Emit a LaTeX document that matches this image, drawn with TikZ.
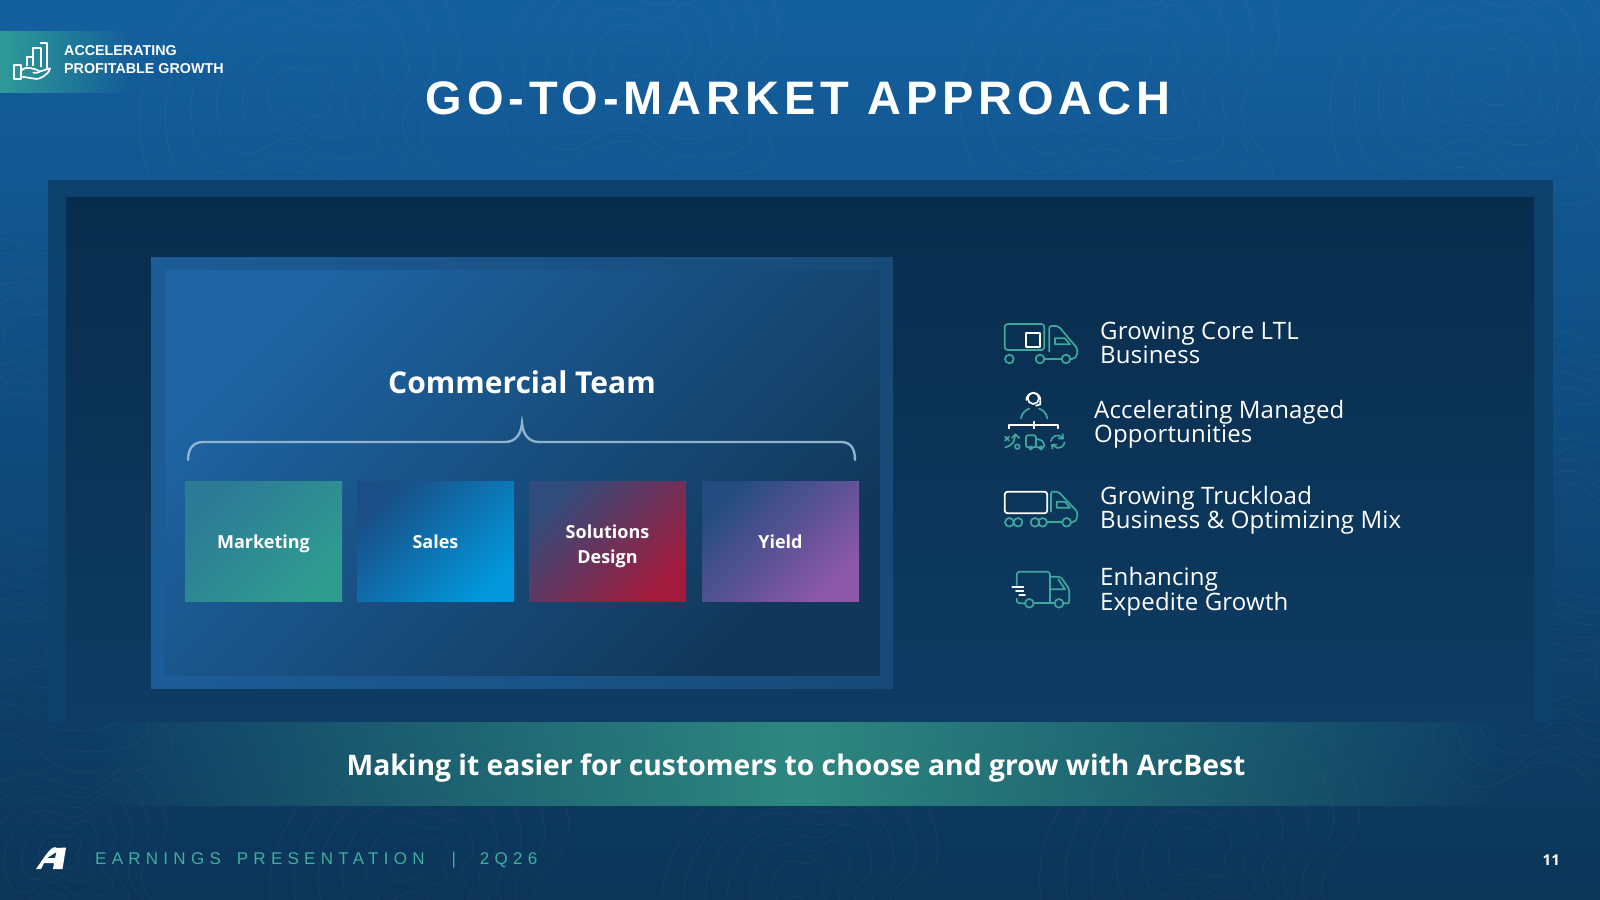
\documentclass[tikz,border=0pt]{standalone}
\usepackage{fontspec}
\setmainfont{Open Sans}
\newfontfamily\titlef[LetterSpace=10.4]{Liberation Sans}
\newfontfamily\headf{Liberation Sans}
\newfontfamily\footf[LetterSpace=31]{Liberation Sans}
\usetikzlibrary{calc,fadings}
\definecolor{teal1}{HTML}{2F9C98}
\definecolor{tealline}{HTML}{3FA79C}
\definecolor{foot}{HTML}{40AE9E}
\definecolor{bgtop}{HTML}{14609F}
\definecolor{bgmid}{HTML}{0F4A7C}
\definecolor{bgbot}{HTML}{0C3558}
\definecolor{panelout}{HTML}{0E406C}
\definecolor{panelin}{HTML}{082C4C}
\definecolor{panelr}{HTML}{0E3C63}
\definecolor{cbA}{HTML}{1C5C97}
\definecolor{cbB}{HTML}{174A78}
\definecolor{cbC}{HTML}{1E64A3}
\definecolor{cbD}{HTML}{113759}
\definecolor{brace}{HTML}{8FB2CE}
\definecolor{mkA}{HTML}{2C7A96}
\definecolor{mkB}{HTML}{2F9C90}
\definecolor{saA}{HTML}{1A4E86}
\definecolor{saB}{HTML}{0296DA}
\definecolor{soA}{HTML}{2F4C7C}
\definecolor{soB}{HTML}{A31B3C}
\definecolor{yiA}{HTML}{254C80}
\definecolor{yiB}{HTML}{8E58A8}
\definecolor{bandmid}{HTML}{2E8880}
\tikzfading[name=bandfade,left color=transparent!100,right color=transparent!100,middle color=transparent!0]
\tikzfading[name=hdfade,left color=transparent!0,right color=transparent!100]
\newcommand{\onel}{\rule[-4.5pt]{0pt}{23pt}}
\tikzset{
  x=1pt,y=-1pt,
  tile/.style={draw=none,minimum width=157pt,minimum height=120.5pt,inner sep=0pt,text=white,font=\bfseries\fontsize{18}{25}\selectfont,align=center},
  bullet/.style={anchor=west,align=left,text=white,inner sep=0pt,font=\addfontfeatures{LetterSpace=.8}\fontsize{24}{23.7}\selectfont},
  ic/.style={draw=tealline,line width=1.7pt,line join=round,line cap=round,fill=none},
  icw/.style={draw=white,line width=1.7pt,line join=round,line cap=round,fill=none},
  contour/.style={draw=white,draw opacity=.04,line width=.8pt},
}
\newcommand{\blob}[3]{%
  \foreach \s in {.25,.45,.65,.85,1.05,1.25}{
    \draw[contour,shift={(#1,#2)},scale=#3*\s] plot[smooth cycle,tension=.8] coordinates {(-70,-30) (-30,-60) (20,-50) (60,-65) (85,-20) (65,20) (80,60) (30,70) (-10,50) (-60,65) (-85,25)};
  }}
\begin{document}
\begin{tikzpicture}
\useasboundingbox (0,0) rectangle (1600,899);
\shade[top color=bgtop,bottom color=bgbot,middle color=bgmid] (0,0) rectangle (1600,899);
\begin{scope}
\clip (0,0) rectangle (1600,899);
\blob{300}{90}{1.5}\blob{640}{60}{1.3}\blob{1120}{70}{1.5}\blob{1480}{80}{1.4}
\blob{30}{330}{1.2}\blob{20}{640}{1.5}\blob{1580}{420}{1.2}\blob{1570}{680}{1.3}
\blob{420}{860}{1.4}\blob{800}{880}{1.3}\blob{1200}{850}{1.5}\blob{60}{850}{1}
\end{scope}
% main panels
\fill[panelout] (48,180) rectangle (1553,722);
\shade[top color=panelin,bottom color=panelr] (66,197) rectangle (1534,722);
% commercial box
\shade[left color=cbA,right color=cbB] (151,257) rectangle (893,688);
\shade[top color=cbC,bottom color=cbD,shading angle=45] (165,270) rectangle (880,675);
\node[text=white,font=\bfseries\fontsize{30}{32}\selectfont,inner sep=0pt] (ct) at (522,382) {Commercial Team};
\coordinate (tip) at (522,423);
\draw[draw=brace,line width=2.4pt,line cap=round] (188,460) .. controls (188,449) and (193,442) .. (203,442) -- (505,442) .. controls (514,442) and (521,436) .. (tip) .. controls (523,436) and (530,442) .. (539,442) -- (841,442) .. controls (851,442) and (855,449) .. (855,460);
\node[tile,top color=mkA,bottom color=mkB,shading angle=45] (mk) at (263.5,541.5) {\onel Marketing};
\node[tile,top color=saA,bottom color=saB,shading angle=45] (sa) at (435.5,541.5) {\onel Sales};
\node[tile,top color=soA,bottom color=soB,shading angle=45] (so) at (607.5,541.5) {\rule{0pt}{22.5pt}Solutions\\\rule[-4.5pt]{0pt}{4.5pt}Design};
\node[tile,top color=yiA,bottom color=yiB,shading angle=45] (yi) at (780.5,541.5) {\onel Yield};
% right bullets
\node[bullet] (b1) at (1100,342.5) {Growing Core LTL\\Business};
\node[bullet] (b2) at (1094,424) {Accelerating Managed\\Opportunities};
\node[bullet] (b3) at (1100,510) {Growing Truckload\\Business \& Optimizing Mix};
\node[bullet] (b4) at (1100,592) {Enhancing\\Expedite Growth};
% icon 1 and 2
\begin{scope}[shift={(990,310)},x=.3333pt,y=-.3333pt]
\draw[ic,rounded corners=3pt] (163,120) -- (44,120) -- (44,42) -- (163,42) -- cycle;
\draw[icw] (108,70) rectangle (150,110);
\draw[ic,rounded corners=2pt] (178,125) -- (178,48) -- (205,48) -- (262,115) -- (262,135) -- (252,147) -- (241,147);
\draw[ic] (195,85) -- (225,85) -- (240,103) -- (195,103) -- cycle;
\draw[ic] (58,147) circle[radius=13] (150,147) circle[radius=13] (228,147) circle[radius=13];
\draw[ic] (163,147) -- (215,147);
\draw[icw] (130,265) circle[radius=17];
\draw[icw] (109,270) arc[start angle=180,end angle=360,radius=21];
\draw[icw] (151,273) -- (151,283) -- (138,287);
\draw[ic] (93,325) .. controls (96,305) and (112,298) .. (118,296);
\draw[ic] (172,325) .. controls (169,305) and (153,298) .. (147,296);
\draw[icw] (58,355) -- (58,344) -- (203,344) -- (203,355);
\draw[icw] (131,335) -- (131,355);
\draw[ic] (45,380) -- (57,392) (57,380) -- (45,392) (46,412) .. controls (70,405) and (72,395) .. (75,378);
\draw[ic] (66,384) -- (76,373) -- (88,384);
\draw[ic] (82,410) circle[radius=7];
\draw[ic,rounded corners=2pt] (118,412) -- (108,412) -- (108,376) -- (138,376) -- (138,412) -- (127,412);
\draw[ic,rounded corners=2pt] (138,388) -- (152,388) -- (163,400) -- (163,412) -- (158,412) (149,412) -- (138,412);
\draw[ic] (122,414) circle[radius=5] (153,414) circle[radius=5];
\draw[ic] (183,393) arc[start angle=190,end angle=320,radius=20];
\draw[ic] (224,397) arc[start angle=10,end angle=140,radius=20];
\draw[ic] (218,372) -- (219,386) -- (206,385) (187,416) -- (186,404) -- (199,404);
\end{scope}
% icon 3 and 4
\begin{scope}[shift={(990,470)},x=.3333pt,y=-.3333pt]
\draw[icw,rounded corners=3pt] (172,130) -- (44,130) -- (44,65) -- (172,65) -- cycle;
\draw[ic,rounded corners=2pt] (183,125) -- (183,65) -- (205,65) -- (262,125) -- (262,145) -- (252,157) -- (243,157);
\draw[ic] (200,95) -- (225,95) -- (240,113) -- (200,113) -- cycle;
\draw[ic] (58,157) circle[radius=13] (84,157) circle[radius=13] (135,157) circle[radius=13] (158,157) circle[radius=13] (230,157) circle[radius=13];
\draw[ic] (171,157) -- (217,157);
\draw[ic,rounded corners=3pt] (80,345) -- (80,305) -- (180,305) -- (180,395);
\draw[ic,rounded corners=2pt] (180,320) -- (212,320) -- (238,358) -- (238,400) -- (220,400);
\draw[ic] (205,328) -- (225,358) -- (182,358);
\draw[ic] (118,400) circle[radius=13] (207,400) circle[radius=13];
\draw[ic] (131,400) -- (194,400);
\draw[ic,rounded corners=3pt] (105,400) -- (80,400) -- (80,386);
\draw[icw] (67,350) -- (100,350) (78,362) -- (100,362) (88,374) -- (105,374);
\end{scope}
% bottom band
\fill[bandmid,path fading=bandfade] (90,722) rectangle (1510,806);
\node[text=white,font=\bfseries\fontsize{28.3}{30}\selectfont,inner sep=0pt] (tag) at (796,768) {Making it easier for customers to choose and grow with ArcBest};
% header
\fill[teal1,path fading=hdfade] (0,31) rectangle (130,93);
\begin{scope}[shift={(0,20)},x=.3333pt,y=-.3333pt]
\draw[icw] (42,135) rectangle (62,178);
\draw[icw] (80,136) -- (80,110) -- (100,110) -- (100,136);
\draw[icw] (100,110) -- (100,85) -- (122,85) -- (122,140);
\draw[icw] (122,70) -- (140,70) -- (140,146);
\draw[icw] (65,150) .. controls (80,138) and (95,145) .. (112,150) .. controls (122,153) and (120,160) .. (100,158);
\draw[icw] (118,155) -- (150,145) .. controls (152,152) and (130,175) .. (110,177) -- (65,170);
\end{scope}
\node[anchor=west,align=left,text=white,inner sep=0pt,font=\headf\bfseries\fontsize{14.3}{18}\selectfont] (hd) at (64,60) {ACCELERATING\\PROFITABLE GROWTH};
\node[text=white,font=\titlef\bfseries\fontsize{47}{50}\selectfont,inner sep=0pt] (title) at (798,98) {GO-TO-MARKET APPROACH};
% footer
\fill[white,even odd rule] (36,869) .. controls (46,855) and (52,844) .. (57,848) -- (66,847.5) -- (62.5,869) -- (53,869) -- (54,863) -- (44,863) -- (41,869) -- cycle (47,858) -- (55,858) -- (56.5,852) -- cycle;
\node[anchor=base west,text=foot,inner sep=0pt,font=\footf\fontsize{17}{20}\selectfont] (ft) at (95,864) {EARNINGS\hspace{6pt} PRESENTATION\ \ \hspace{7pt}|\ \ \hspace{4pt}2Q26};
\node[anchor=base east,text=white,inner sep=0pt,font=\bfseries\fontsize{15}{18}\selectfont] (pg) at (1560,865) {11};
\end{tikzpicture}
\end{document}
